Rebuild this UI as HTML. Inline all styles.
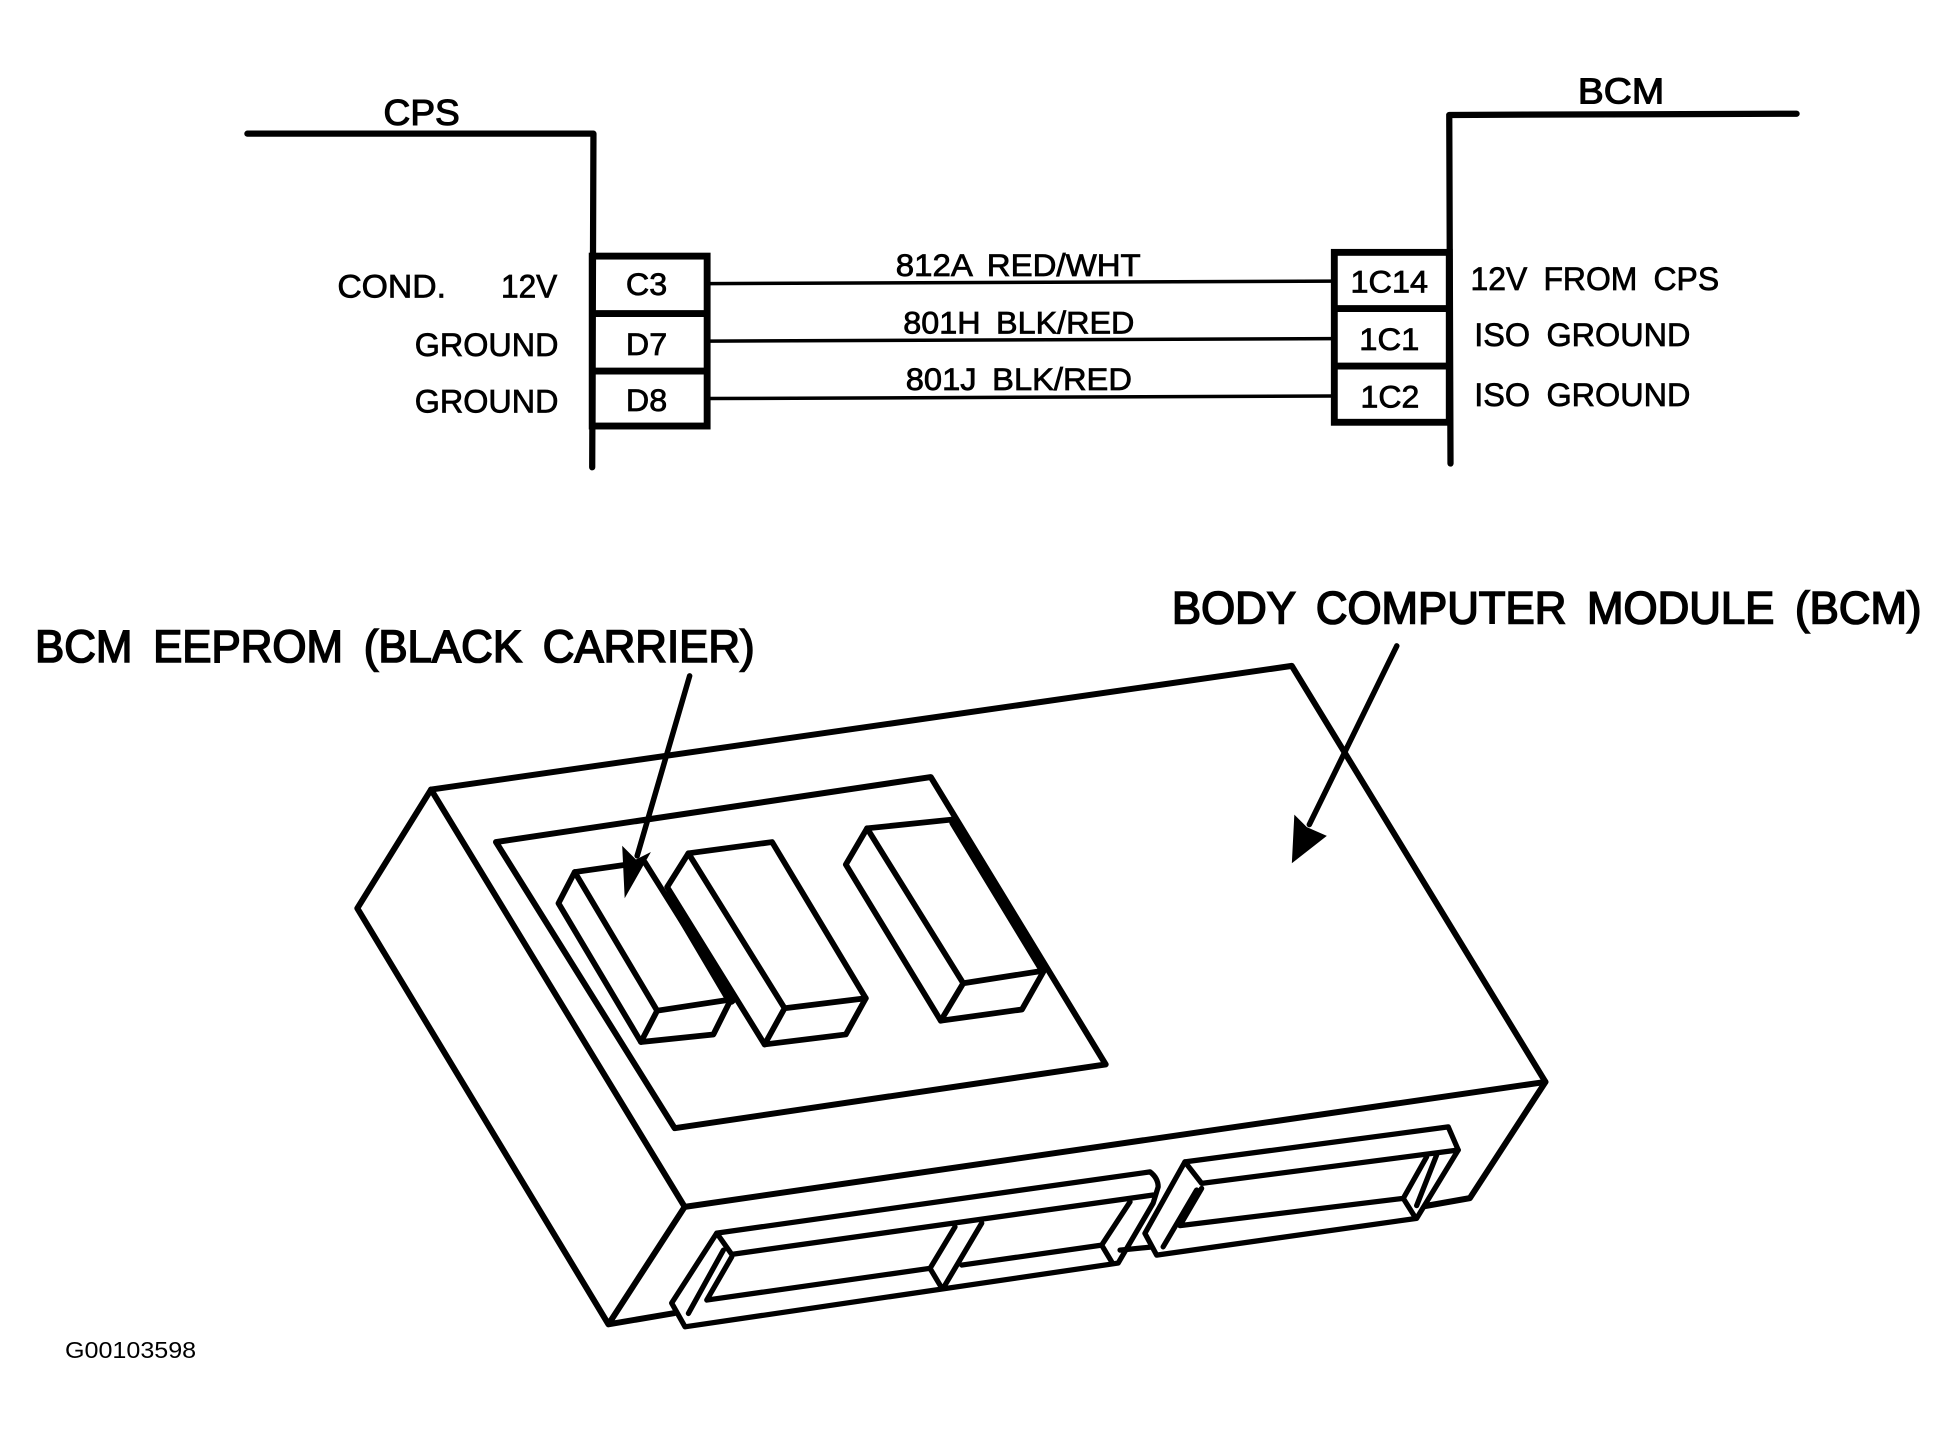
<!DOCTYPE html>
<html><head><meta charset="utf-8"><style>
html,body{margin:0;padding:0;background:#fff}
svg{display:block}
text{font-family:"Liberation Sans",sans-serif;fill:#000;stroke:#000;stroke-width:.6}
</style></head><body>
<svg width="1959" height="1434" viewBox="0 0 1568 1147.8" xmlns="http://www.w3.org/2000/svg">
<rect width="1568" height="1148" fill="#fff"/>
<g fill="none" stroke="#000" stroke-linejoin="round" stroke-linecap="round">
<!-- schematic -->
<polyline points="198,107 475,107 474,374" stroke-width="5"/>
<polyline points="1438,91 1160,92 1161,371" stroke-width="5"/>
<g stroke-width="5.5" stroke-linecap="butt" stroke-linejoin="miter">
<rect x="474" y="205" width="92" height="136"/>
<path d="M474 251H566M474 297H566"/>
<rect x="1068" y="202" width="92" height="136"/>
<path d="M1068 247H1160M1068 293H1160"/>
</g>
<g stroke-width="2.8">
<path d="M567 227L1067 225M567 273L1067 271M567 319L1067 317"/>
</g>
<!-- body -->
<g stroke-width="4.8">
<polygon points="345,632 1034,533 1237,866 548,966" fill="#fff"/>
<path d="M345,632L286,727L487,1060L540,1051M548,966L487,1060M1237,866L1176.5,959L1137,966"/>
<polygon points="397,674 745,622 885,852 540,903" fill="#fff"/>
</g>
<!-- blocks -->
<g stroke-width="4.6">
<polygon points="460,698 516,690 585,800 571,828 513,834 447,723" fill="#fff"/>
<path d="M460,698L526,809L585,800M526,809L513,834"/>
<path d="M536,717L585,800" stroke-width="8.5"/>
<polygon points="551,683 618,674 693,799 677,828 612,836 534,710" fill="#fff"/>
<path d="M551,683L628,807L693,799M628,807L612,836"/>
<polygon points="694,663 762,656 835,778 818,808 753,817 677,692" fill="#fff"/>
<path d="M694,663L771,787L835,777M771,787L753,817"/>
<path d="M764,658L835,775" stroke-width="8.5"/>
</g>
<!-- connectors -->
<g stroke-width="4.2">
<path d="M573.7,987 L920.5,938 Q927,943 927,950 L923,963 L895,1011 L548.3,1062 L537.6,1043Z" fill="#fff"/>
<path d="M573.7,987L585.7,1004L923,956.5M579,1000.6L551,1051.3"/>
<path d="M585.7,1006L565.7,1040.6L744.4,1015.2L753.8,1031M764.4,982L744.4,1015.2M785.8,979L755,1031"/>
<path d="M769.8,1012.6L881.8,996.6L889.8,1010M881.8,996.6L904.5,962M896.5,1000.6L923,998"/>
<path d="M948.4,930L1159.2,902L1167.2,920.5L1133.9,975.2L925.8,1004.6L916.4,987.2Z" fill="#fff"/>
<path d="M948.4,930L961.8,947.2L1167.2,920.5M957.8,952.5L931,998"/>
<path d="M961.8,951.2L944.4,981L1123.2,959.2L1132.5,974M1123.2,959.2L1141.9,926M1149.9,924.5L1133.9,965"/>
</g>
<!-- arrows -->
<path d="M552,541L510,685" stroke-width="4.4"/>
<path d="M1118,517L1048,660" stroke-width="4.4"/>
</g>
<polygon points="498,677 509,688 521,682 500,719" fill="#000"/>
<polygon points="1036,652 1046,662 1062,669 1034,691" fill="#000"/>

<!-- labels -->
<text x="307" y="100" font-size="29" textLength="61" lengthAdjust="spacingAndGlyphs" style="stroke-width:.9">CPS</text>
<text x="1263" y="83" font-size="29" textLength="69" lengthAdjust="spacingAndGlyphs" style="stroke-width:.9">BCM</text>
<text x="270" y="238" font-size="26" textLength="87" lengthAdjust="spacingAndGlyphs">COND.</text>
<text x="401" y="238" font-size="26" textLength="45" lengthAdjust="spacingAndGlyphs">12V</text>
<text x="332" y="285" font-size="26" textLength="115" lengthAdjust="spacingAndGlyphs">GROUND</text>
<text x="332" y="330" font-size="26" textLength="115" lengthAdjust="spacingAndGlyphs">GROUND</text>
<text x="501" y="236" font-size="25" textLength="33" lengthAdjust="spacingAndGlyphs">C3</text>
<text x="501" y="284" font-size="25" textLength="33" lengthAdjust="spacingAndGlyphs">D7</text>
<text x="501" y="329" font-size="25" textLength="33" lengthAdjust="spacingAndGlyphs">D8</text>
<text x="717" y="221" font-size="25" textLength="196" lengthAdjust="spacingAndGlyphs" word-spacing="5">812A RED/WHT</text>
<text x="723" y="267" font-size="25" textLength="185" lengthAdjust="spacingAndGlyphs" word-spacing="5">801H BLK/RED</text>
<text x="725" y="312" font-size="25" textLength="181" lengthAdjust="spacingAndGlyphs" word-spacing="5">801J BLK/RED</text>
<text x="1081" y="234" font-size="25" textLength="62" lengthAdjust="spacingAndGlyphs">1C14</text>
<text x="1088" y="280" font-size="25" textLength="48" lengthAdjust="spacingAndGlyphs">1C1</text>
<text x="1089" y="326" font-size="25" textLength="47" lengthAdjust="spacingAndGlyphs">1C2</text>
<text x="1177" y="232" font-size="26" textLength="199" lengthAdjust="spacingAndGlyphs" word-spacing="6">12V FROM CPS</text>
<text x="1180" y="277" font-size="26" textLength="173" lengthAdjust="spacingAndGlyphs" word-spacing="6">ISO GROUND</text>
<text x="1180" y="325" font-size="26" textLength="173" lengthAdjust="spacingAndGlyphs" word-spacing="6">ISO GROUND</text>
<text x="938" y="499" font-size="36" textLength="600" lengthAdjust="spacingAndGlyphs" word-spacing="7" style="stroke-width:1.3">BODY COMPUTER MODULE (BCM)</text>
<text x="28" y="530" font-size="36" textLength="576" lengthAdjust="spacingAndGlyphs" word-spacing="7" style="stroke-width:1.3">BCM EEPROM (BLACK CARRIER)</text>
<text x="52" y="1087" font-size="18.5" textLength="105" lengthAdjust="spacingAndGlyphs" style="stroke-width:0">G00103598</text>
</svg>
</body></html>
